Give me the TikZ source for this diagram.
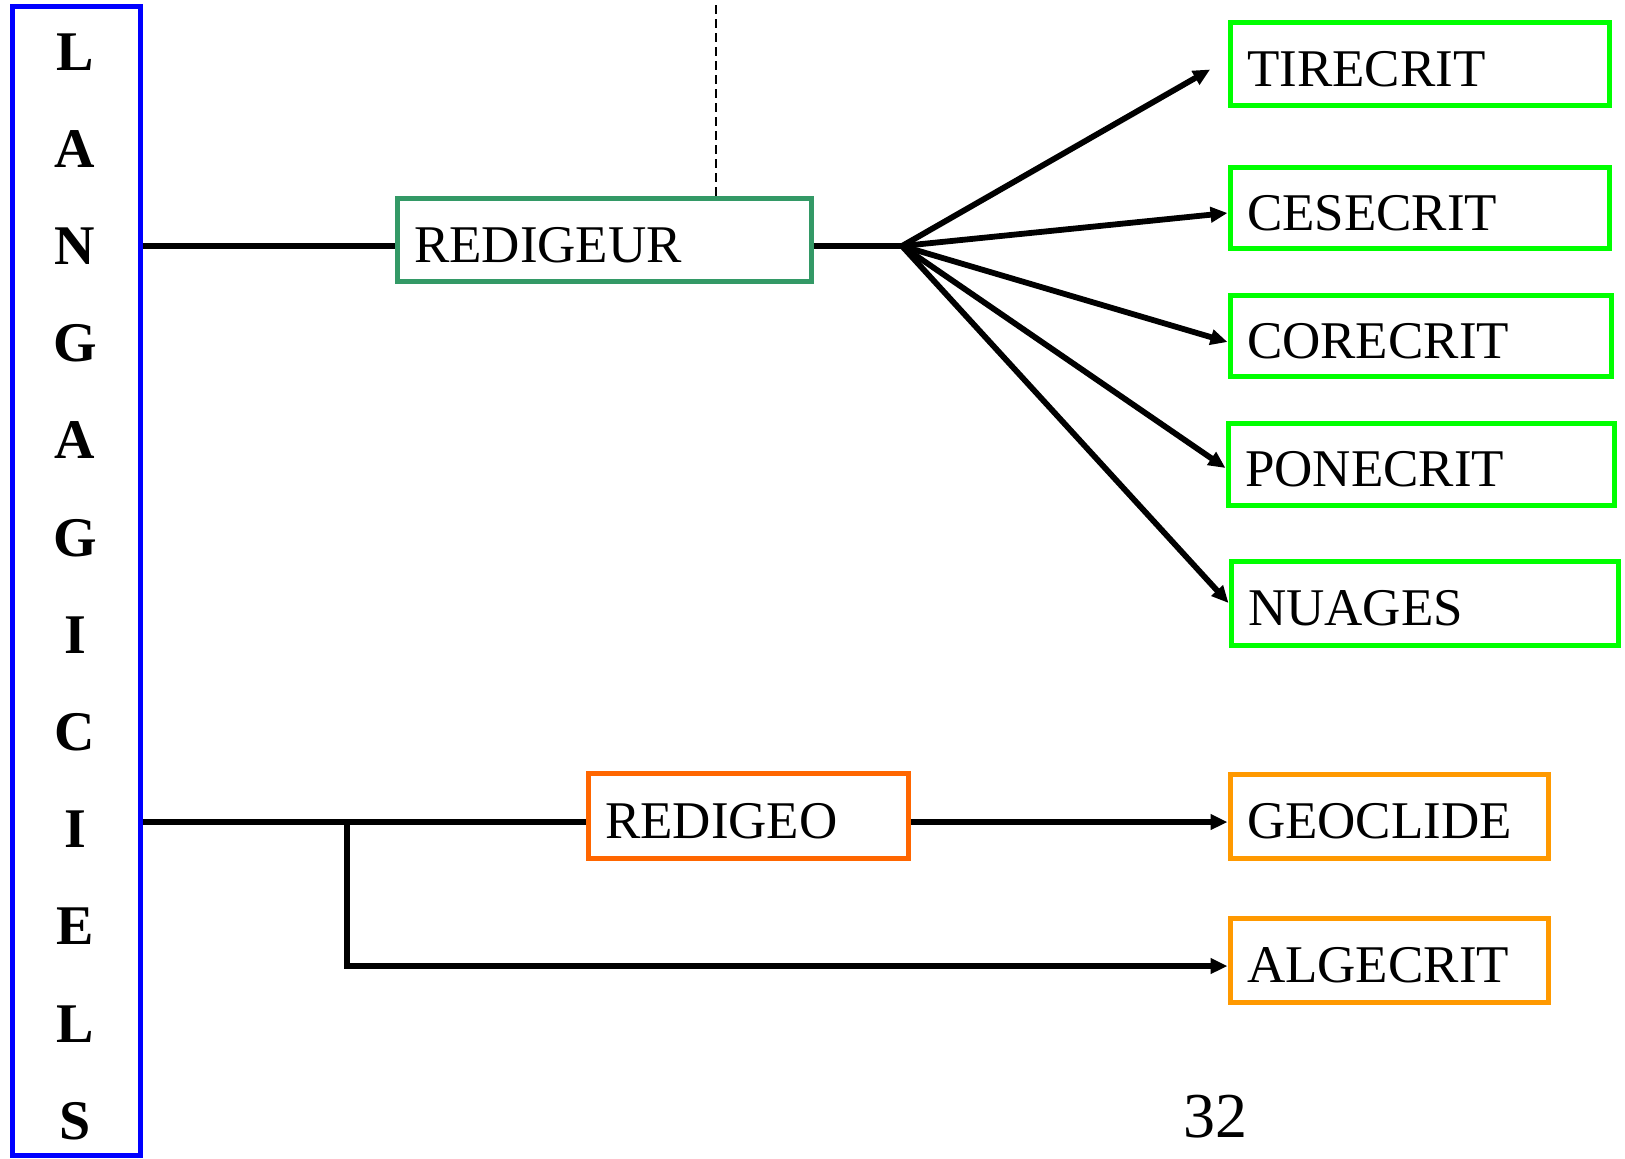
\documentclass[tikz,border=0pt]{standalone}
\usepackage{fontspec}
\setmainfont{Liberation Serif}
\usetikzlibrary{arrows.meta,calc}
\definecolor{limeg}{HTML}{00FF00}
\definecolor{seag}{HTML}{339966}
\definecolor{orA}{HTML}{FF6600}
\definecolor{orB}{HTML}{FF9900}
\begin{document}
\begin{tikzpicture}[x=0.5pt,y=-0.5pt,
  bx/.style={draw=#1, line width=2.5pt, inner xsep=8.5pt, inner ysep=0pt, align=left,
    font=\fontsize{26.5}{30}\selectfont, text height=22.5pt, text depth=0pt},
  conn/.style={line width=2.9pt},
  arr/.style={conn, -{Triangle[length=8.5pt,width=7.5pt]}},
  letter/.style={font=\bfseries\fontsize{28}{30}\selectfont, anchor=base, inner sep=0pt}]
\useasboundingbox (0,0) rectangle (1625,1158);

% left blue box with stacked letters
\node[draw=blue, line width=2.5pt, minimum width=64pt, minimum height=574.5pt, inner sep=0pt] (lang) at (76,580.5) {};
\foreach \l [count=\i from 0] in {L,A,N,G,A,G,I,C,I,E,L,S}
  \node[letter] (l\i) at (75,70+97.2*\i) {\l};

% boxes
\node[bx=seag, text width=190pt, minimum height=41.5pt] (rdg) at (604,239.5) {REDIGEUR};
\node[bx=limeg, text width=172.5pt, minimum height=41.5pt] (tir) at (1419.5,63.5) {TIRECRIT};
\node[bx=limeg, text width=172.5pt, minimum height=40.5pt] (ces) at (1419.5,207.5) {CESECRIT};
\node[bx=limeg, text width=173.5pt, minimum height=40.5pt] (cor) at (1420.5,335.5) {CORECRIT};
\node[bx=limeg, text width=176pt, minimum height=41pt] (pon) at (1421,464) {PONECRIT};
\node[bx=limeg, text width=176.5pt, minimum height=42pt] (nua) at (1424.5,603) {NUAGES};
\node[bx=orA, text width=143pt, minimum height=42.5pt] (redg) at (748,815.5) {REDIGEO};
\node[bx=orB, text width=142pt, minimum height=42pt] (geo) at (1389,816) {GEOCLIDE};
\node[bx=orB, text width=142pt, minimum height=42pt] (alg) at (1389,960) {ALGECRIT};

\node[font=\fontsize{32}{36}\selectfont, anchor=base, inner sep=0pt] (pg) at (1215,1137) {32};

% dashed line
\coordinate (dtop) at (716,5);
\draw[line width=1pt, dash pattern=on 4.5pt off 2.5pt] (dtop) -- (dtop |- rdg.north);

% upper connectors
\coordinate (J) at (902,246);
\draw[conn] (lang.east |- J) -- (rdg.west |- J);
\draw[conn] (rdg.east |- J) -- (J);
\draw[arr, shorten >=10pt] (J) -- ([yshift=2pt]tir.west);
\draw[arr] (J) -- ([yshift=-2.75pt]ces.west);
\draw[arr] (J) -- ([yshift=-3.25pt]cor.west);
\draw[arr] (J) -- ([yshift=-2pt]pon.west);
\draw[arr] (J) -- (nua.west);

% lower connectors
\coordinate (K) at (347,822);
\draw[conn] (lang.east |- K) -- (redg.west |- K);
\draw[arr] (redg.east |- K) -- ([yshift=-3pt]geo.west);
\draw[arr] (K) |- ([yshift=-3pt]alg.west);
\end{tikzpicture}
\end{document}
